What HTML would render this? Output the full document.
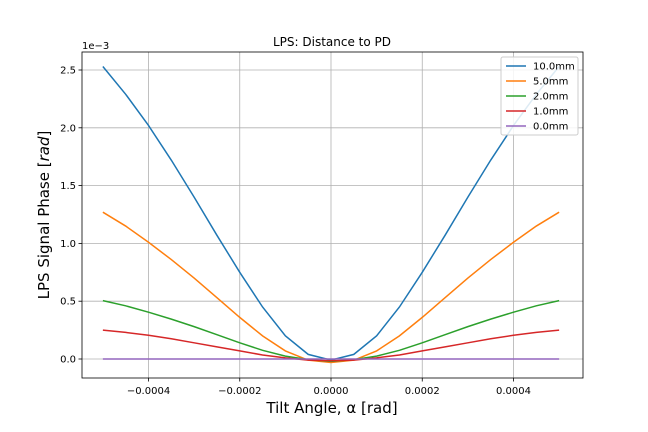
<!DOCTYPE html>
<html><head><meta charset="utf-8"><style>body{margin:0;background:#fff}svg{display:block;font-family:"DejaVu Sans","Liberation Sans",sans-serif}</style></head>
<body>
<svg id="c" width="648" height="432"></svg>
<script>
const xs=[-0.0005,-0.00045,-0.0004,-0.00035,-0.0003,-0.00025,-0.0002,-0.00015,-0.0001,-0.00005,0,0.00005,0.0001,0.00015,0.0002,0.00025,0.0003,0.00035,0.0004,0.00045,0.0005];
const blue=[2.53,2.29,2.02,1.72,1.40,1.07,0.75,0.45,0.20,0.04,-0.01,0.04,0.20,0.45,0.75,1.07,1.40,1.72,2.02,2.29,2.53];
const orange=[1.27,1.15,1.01,0.86,0.70,0.53,0.36,0.20,0.07,-0.01,-0.03,-0.01,0.07,0.20,0.36,0.53,0.70,0.86,1.01,1.15,1.27];
const green=[0.505,0.46,0.405,0.345,0.28,0.21,0.14,0.075,0.025,-0.005,-0.02,-0.005,0.025,0.075,0.14,0.21,0.28,0.345,0.405,0.46,0.505];
const red=[0.25,0.23,0.205,0.175,0.14,0.105,0.07,0.035,0.01,-0.01,-0.015,-0.01,0.01,0.035,0.07,0.105,0.14,0.175,0.205,0.23,0.25];
const purple=[0,0,0,0,0,0,0,0,0,0,0,0,0,0,0,0,0,0,0,0,0];
const seriesNames=["10.0mm","5.0mm","2.0mm","1.0mm","0.0mm"];
const xTicks=[-0.0004,-0.0002,0,0.0002,0.0004];
const xTickLabels=["\u22120.0004","\u22120.0002","0.0000","0.0002","0.0004"];
const yTicks=[0,0.5,1.0,1.5,2.0,2.5];
const yTickLabels=["0.0","0.5","1.0","1.5","2.0","2.5"];
const L=82,R=583,T=52,B=378;
const X=v=>331+v/0.0002*91.25, Y=v=>359-v/0.5*57.8;
const svg=document.getElementById('c');const NS="http://www.w3.org/2000/svg";
function mk(t,a,txt,name){const e=document.createElementNS(NS,t);for(const k in a)e.setAttribute(k,a[k]);if(txt!=null)e.textContent=txt;


svg.appendChild(e);return e;}
mk('rect',{x:L,y:T,width:R-L,height:B-T,fill:'#fff'},null,'plot-area');
xTicks.forEach((t,i)=>{const x=X(t);mk('line',{x1:x,x2:x,y1:T,y2:B,stroke:'#b0b0b0','stroke-width':0.8},null,'x-grid-line');
mk('line',{x1:x,x2:x,y1:B,y2:B+3.5,stroke:'#000','stroke-width':0.8},null,'x-tick');
mk('text',{x:x,y:B+16,'font-size':10,'text-anchor':'middle'},xTickLabels[i],'x-tick-label');});
yTicks.forEach((t,i)=>{const y=Y(t);mk('line',{x1:L,x2:R,y1:y,y2:y,stroke:'#b0b0b0','stroke-width':0.8},null,'y-grid-line');
mk('line',{x1:L-3.5,x2:L,y1:y,y2:y,stroke:'#000','stroke-width':0.8},null,'y-tick');
mk('text',{x:L-6,y:y+3.5,'font-size':10,'text-anchor':'end'},yTickLabels[i],'y-tick-label');});
const cols=['#1f77b4','#ff7f0e','#2ca02c','#d62728','#9467bd'];
[blue,orange,green,red,purple].forEach((s,k)=>{mk('polyline',{points:s.map((v,i)=>X(xs[i])+','+Y(v)).join(' '),fill:'none',stroke:cols[k],'stroke-width':1.5},null,'series-line-'+seriesNames[k].replace('.','-'));});
mk('rect',{x:L,y:T,width:R-L,height:B-T,fill:'none',stroke:'#000','stroke-width':0.8},null,'plot-frame');
mk('text',{x:82,y:49,'font-size':10},"1e\u22123",'y-offset-label');
mk('text',{x:332,y:46,'font-size':12,'text-anchor':'middle'},"LPS: Distance to PD",'chart-title');
mk('text',{x:332,y:413,'font-size':15,'text-anchor':'middle'},"Tilt Angle, \u03b1 [rad]",'x-axis-title');
const yt=mk('text',{x:49,y:215,'font-size':15,'text-anchor':'middle',transform:'rotate(-90 49 215)'},null,'y-axis-title');
yt.appendChild(document.createTextNode("LPS Signal Phase ["));
const ts=document.createElementNS(NS,'tspan');ts.setAttribute('font-style','italic');ts.textContent="rad";


yt.appendChild(ts);yt.appendChild(document.createTextNode("]"));
mk('rect',{x:501,y:57,width:77,height:78,fill:'#fff','fill-opacity':0.85,stroke:'#ccc',rx:2},null,'legend-box');
seriesNames.forEach((n,k)=>{const y=66+k*15;mk('line',{x1:506,x2:526,y1:y,y2:y,stroke:cols[k],'stroke-width':1.5},null,'legend-swatch');
mk('text',{x:533,y:y+3.5,'font-size':10},n,'legend-entry');});
</script>
</body></html>
